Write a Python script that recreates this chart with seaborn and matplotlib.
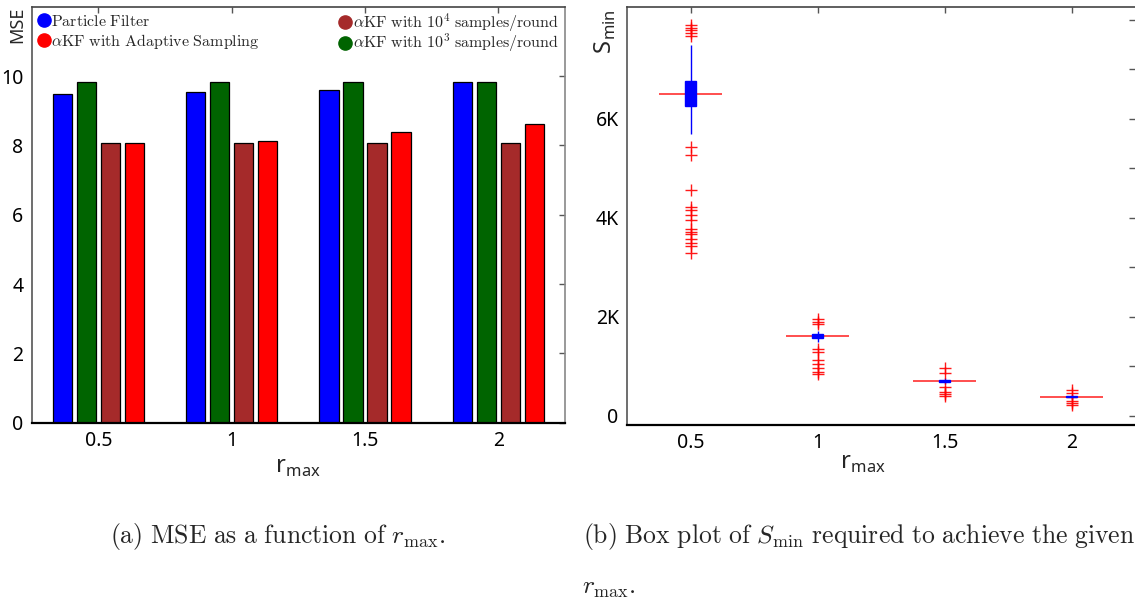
import numpy as np
import pandas as pd
import matplotlib
matplotlib.use("Agg")
import matplotlib.pyplot as plt
import seaborn as sns
from matplotlib.lines import Line2D

# ---------------- data: (a) MSE bar chart ----------------
r_max_labels = ["0.5", "1", "1.5", "2"]
mse_particle_filter = [9.49, 9.54, 9.61, 9.82]
mse_akf_1e3 = [9.82, 9.82, 9.82, 9.82]
mse_akf_1e4 = [8.06, 8.06, 8.06, 8.06]
mse_akf_adaptive = [8.08, 8.13, 8.38, 8.61]

# ---------------- data: (b) S_min box plot ----------------
r_max_values = [0.5, 1.0, 1.5, 2.0]
smin_q1 = [6256, 1570, 685, 375]
smin_median = [6504, 1610, 704, 389]
smin_q3 = [6766, 1650, 725, 400]
smin_whisker_low = [5692, 1500, 650, 350]
smin_whisker_high = [7486, 1720, 760, 425]
smin_outliers = [
    [7895, 7841, 7788, 7734, 7681, 5442, 5280, 4563, 4212, 4159, 4058,
     3964, 3776, 3722, 3675, 3575, 3486, 3440, 3284],
    [1966, 1900, 1865, 1362, 1294, 1127, 1046, 960, 891, 845],
    [972, 871, 590, 489, 443, 402],
    [523, 456, 308, 255, 221],
]

sns.set_style("white")
plt.rcParams["font.family"] = ["Noto Sans", "DejaVu Sans"]
plt.rcParams["mathtext.fontset"] = "cm"

fig = plt.figure(figsize=(11.35, 6.0), dpi=100)
W, H = 1135.0, 600.0
ax1 = fig.add_axes([31.7 / W, (H - 422.7) / H, 533.3 / W, 416.0 / H])
ax2 = fig.add_axes([627 / W, (H - 425) / H, 508 / W, 418 / H])

# ---------------- (a) bars ----------------
methods = ["pf", "akf3", "akf4", "akfa"]
colors = {"pf": "#0000ff", "akf3": "#006400", "akf4": "#a52a2a", "akfa": "#ff0000"}
series = {"pf": mse_particle_filter, "akf3": mse_akf_1e3,
          "akf4": mse_akf_1e4, "akfa": mse_akf_adaptive}
rows = []
for m in methods:
    for lab, v in zip(r_max_labels, series[m]):
        rows.append({"r_max": lab, "method": m, "mse": v})
df = pd.DataFrame(rows)

sns.barplot(data=df, x="r_max", y="mse", hue="method", hue_order=methods,
            order=r_max_labels, palette=colors, width=0.72, gap=0.2,
            edgecolor="black", linewidth=0.9, saturation=1, errorbar=None,
            legend=False, ax=ax1)
ax1.set_xlim(-0.5, 3.5)
ax1.set_ylim(0, 12)
ax1.set_yticks([0, 2, 4, 6, 8, 10])
ax1.set_yticklabels(["0", "2", "4", "6", "8", "10"])
ax1.set_xlabel("r$_\\mathregular{max}$", fontsize=17)
ax1.xaxis.set_label_coords(0.5, -0.078)
ax1.xaxis.label.set_va("top")
ax1.set_ylabel("MSE", fontsize=13, loc="top")
ax1.yaxis.set_label_coords(-0.01, 1.0)

leg_labels = [r"$\mathrm{Particle\ Filter}$",
              r"$\alpha\mathrm{KF\ with\ Adaptive\ Sampling}$",
              r"$\alpha\mathrm{KF\ with\ }10^{4}\mathrm{\ samples/round}$",
              r"$\alpha\mathrm{KF\ with\ }10^{3}\mathrm{\ samples/round}$"]
leg_colors = [colors["pf"], colors["akfa"], colors["akf4"], colors["akf3"]]
handles = [Line2D([], [], marker="o", linestyle="", markersize=9.5,
                  markerfacecolor=c, markeredgecolor=c) for c in leg_colors]
leg_kw = dict(frameon=False, fontsize=11.5, handlelength=0.8,
              handletextpad=0.05, borderaxespad=0.0)
leg1 = ax1.legend(handles[:2], leg_labels[:2], loc="upper left",
                  bbox_to_anchor=(-0.003, 1.0), labelspacing=0.12,
                  borderpad=0.45, **leg_kw)
ax1.add_artist(leg1)
ax1.legend(handles[2:], leg_labels[2:], loc="upper right",
           bbox_to_anchor=(0.997, 1.0), labelspacing=-0.12,
           borderpad=0.3, **leg_kw)

# ---------------- (b) box plot ----------------
k = 60
brows = []
for i, xv in enumerate(r_max_values):
    sample = list(smin_outliers[i]) + [smin_whisker_low[i], smin_whisker_high[i]]
    sample += [smin_q1[i]] * k + [smin_median[i]] * k + [smin_q3[i]] * k
    for s in sample:
        brows.append({"r_max": xv, "smin": s})
dfb = pd.DataFrame(brows)

sns.boxplot(data=dfb, x="r_max", y="smin", native_scale=True, width=0.08,
            color="#0000ff", linecolor="#0000ff", saturation=1, linewidth=1.0,
            whis=1.5, showcaps=False,
            flierprops=dict(marker="+", markeredgecolor="#ff0000",
                            markerfacecolor="#ff0000", markersize=8,
                            markeredgewidth=1.0, alpha=0.9),
            medianprops=dict(color="#ff0000", linewidth=1.0),
            boxprops=dict(zorder=3), ax=ax2)
xv = np.array(r_max_values)
ax2.hlines(smin_median, xv - 0.125, xv + 0.125, colors="#ff0000",
           linewidth=1.3, alpha=0.75, zorder=2)
ax2.set_xlim(0.25, 2.25)
ax2.set_ylim(-182, 8262)
ax2.set_xticks(r_max_values)
ax2.set_xticklabels(["0.5", "1", "1.5", "2"])
ax2.set_yticks(list(range(0, 8001, 1000)))
ax2.set_yticklabels(["0", "", "2K", "", "4K", "", "6K", "", ""])
ax2.set_xlabel("r$_\\mathregular{max}$", fontsize=17)
ax2.xaxis.set_label_coords(0.465, -0.062)
ax2.xaxis.label.set_va("top")
ax2.set_ylabel("S$_\\mathregular{min}$", fontsize=17, loc="top")
ax2.yaxis.set_label_coords(-0.018, 0.995)

for ax in (ax1, ax2):
    ax.tick_params(axis="both", which="both", direction="in", length=4,
                   width=1, color="#555555", top=True, right=True,
                   labelsize=14, labelcolor="black", pad=6)
    ax.spines["left"].set_color("#555555")
    ax.spines["top"].set_color("#444444")
    ax.spines["right"].set_color("#888888")
    ax.spines["bottom"].set_color("black")
    ax.spines["bottom"].set_linewidth(1.6)
    for s in ("left", "top", "right"):
        ax.spines[s].set_linewidth(1.2)
    ax.grid(False)
ax2.spines["right"].set_visible(False)

# ---------------- captions ----------------
fig.text(110 / W, 1 - 536 / H,
         r"$\mathrm{(a)\ MSE\ as\ a\ function\ of\ }r_{\mathrm{max}}.$",
         fontsize=18.5, ha="left", va="center")
fig.text(583 / W, 1 - 536 / H,
         r"$\mathrm{(b)\ Box\ plot\ of\ }S_{\mathrm{min}}\mathrm{\ required\ to\ achieve\ the\ given}$",
         fontsize=18.5, ha="left", va="center")
fig.text(582 / W, 1 - 588 / H, r"$r_{\mathrm{max}}.$",
         fontsize=18.5, ha="left", va="center")

fig.savefig("out.png", dpi=100)
